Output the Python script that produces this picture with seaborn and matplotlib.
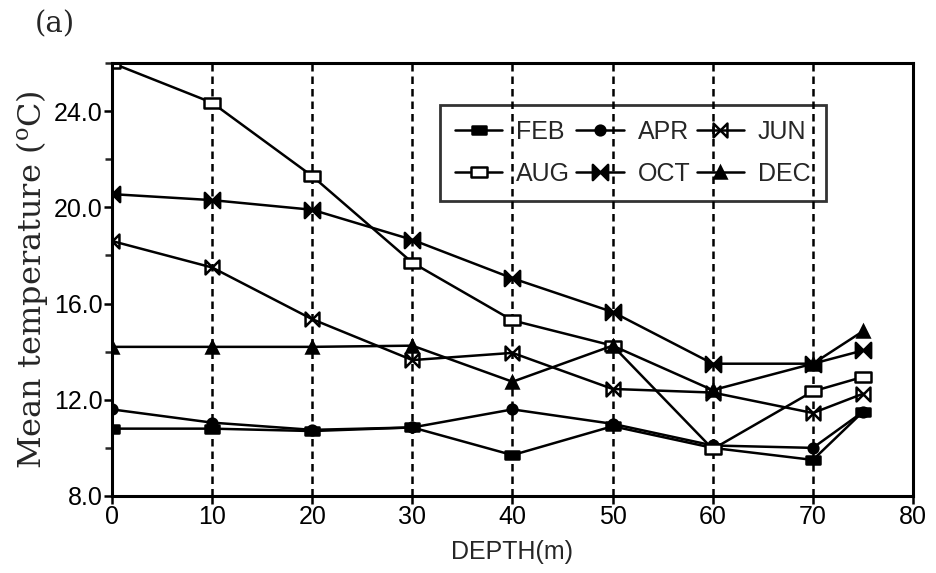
import matplotlib
matplotlib.use("Agg")
import matplotlib.pyplot as plt
import numpy as np
import seaborn as sns
from matplotlib.path import Path
from matplotlib.ticker import MultipleLocator

depth = [0, 10, 20, 30, 40, 50, 60, 70, 75]
feb = [10.8, 10.8, 10.7, 10.85, 9.7, 10.9, 10.0, 9.5, 11.5]
apr = [11.6, 11.05, 10.75, 10.85, 11.6, 11.0, 10.1, 10.0, 11.5]
jun = [18.6, 17.5, 15.35, 13.65, 13.95, 12.45, 12.3, 11.45, 12.25]
aug = [26.0, 24.35, 21.3, 17.7, 15.3, 14.25, 9.95, 12.35, 12.95]
oct_ = [20.55, 20.3, 19.9, 18.65, 17.05, 15.65, 13.5, 13.5, 14.05]
dec = [14.2, 14.2, 14.2, 14.25, 12.75, 14.25, 12.4, 13.5, 14.85]
months = ["FEB", "APR", "JUN", "AUG", "OCT", "DEC"]
series = [feb, apr, jun, aug, oct_, dec]

# custom marker shapes
rect = Path([(-1, -0.6), (1, -0.6), (1, 0.6), (-1, 0.6), (-1, -0.6)],
            [Path.MOVETO, Path.LINETO, Path.LINETO, Path.LINETO, Path.CLOSEPOLY])
bowtie = Path([(-1, 1), (-1, -1), (1, 1), (1, -1), (-1, 1)],
              [Path.MOVETO, Path.LINETO, Path.LINETO, Path.LINETO, Path.CLOSEPOLY])

styles = {
    "FEB": dict(marker=rect, markersize=10, mfc="k"),
    "APR": dict(marker="o", markersize=7, mfc="k"),
    "JUN": dict(marker=bowtie, markersize=10, mfc="none"),
    "AUG": dict(marker=rect, markersize=12, mfc="white"),
    "OCT": dict(marker=bowtie, markersize=11, mfc="k"),
    "DEC": dict(marker="^", markersize=9, mfc="k"),
}

sns.set_style("ticks")
plt.rcParams["font.family"] = ["Liberation Sans", "DejaVu Sans"]

fig, ax = plt.subplots(figsize=(9.37, 5.73), dpi=100)
fig.subplots_adjust(left=0.1195, right=0.9744, bottom=0.1344, top=0.890)

for name, vals in zip(months, series):
    st = styles[name]
    sns.lineplot(x=depth, y=vals, ax=ax, color="k", linewidth=1.8,
                 marker=st["marker"], markersize=st["markersize"],
                 markerfacecolor=st["mfc"], markeredgecolor="k",
                 markeredgewidth=1.8, label=name)

ax.set_xlim(0, 80)
ax.set_ylim(8, 26)
ax.xaxis.set_major_locator(MultipleLocator(10))
ax.set_yticks([8, 12, 16, 20, 24])
ax.set_yticklabels(["8.0", "12.0", "16.0", "20.0", "24.0"])
ax.yaxis.set_minor_locator(MultipleLocator(2))
ax.tick_params(axis="both", which="major", labelsize=18, length=6, width=1.8,
               direction="out", colors="k", pad=0.5)
ax.tick_params(axis="y", which="minor", length=5, width=1.8, direction="out")
ax.xaxis.grid(True, which="major", color="k", linestyle=(0, (3, 2)), linewidth=1.8)

for sp in ax.spines.values():
    sp.set_visible(True)
    sp.set_linewidth(2.2)
    sp.set_color("k")

ax.set_xlabel("DEPTH(m)", fontsize=18, labelpad=8)
ax.set_ylabel(r"Mean temperature ($\mathregular{^{o}}$C)", fontsize=23,
              family="DejaVu Serif", labelpad=3)
fig.text(0.058, 0.958, "(a)", fontsize=21, family="DejaVu Serif",
         ha="center", va="center")

# legend filled row by row: FEB APR JUN / AUG OCT DEC
handles, labels = ax.get_legend_handles_labels()
order = [0, 3, 1, 4, 2, 5]
leg = ax.legend([handles[i] for i in order], [labels[i] for i in order],
                ncol=3, loc="upper left", bbox_to_anchor=(0.4095, 0.903),
                borderaxespad=0, fontsize=18, frameon=True, fancybox=False,
                edgecolor="k", facecolor="none", handlelength=1.9,
                columnspacing=0.25, handletextpad=0.55, borderpad=0.6,
                labelspacing=0.7)
leg.get_frame().set_linewidth(2.0)

fig.savefig("out.png", dpi=100)
